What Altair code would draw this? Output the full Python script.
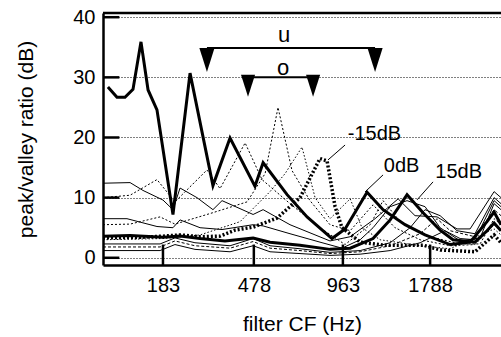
import altair as alt
import pandas as pd

# x positions are in ERB-rate-like channel units (equal spacing on the axis)
tick_pos = [5.5, 10.5, 15.4, 20.2]
tick_labels = ["183", "478", "963", "1788"]
y_ticks = [0, 10, 20, 30, 40]

# -15 dB (thick dotted)
m15_x = [2.20, 4.24, 5.50, 6.44, 7.54, 8.64, 9.46, 10.46, 11.78, 13.04, 14.14, 14.53, 14.97, 15.35, 16.35, 17.61, 19.81, 20.75, 22.67, 23.72, 24.10]
m15_y = [3.3, 3.4, 3.6, 3.8, 3.5, 3.6, 4.6, 5.1, 6.6, 10.0, 16.5, 16.1, 8.5, 5.0, 2.6, 2.1, 2.1, 1.3, 1.0, 3.8, 2.5]
# 0 dB (thick solid)
z_x = [2.47, 2.97, 3.41, 3.85, 4.29, 4.68, 5.17, 6.05, 6.99, 8.25, 9.19, 10.56, 11.01, 12.33, 13.43, 14.80, 15.52, 16.73, 17.61, 18.82, 19.92, 21.30, 22.40, 23.33, 23.72, 24.10]
z_y = [28.4, 26.7, 26.7, 28.0, 35.9, 27.9, 24.6, 7.2, 30.7, 12.0, 19.9, 11.9, 15.8, 10.5, 6.8, 3.2, 4.8, 10.9, 8.0, 5.5, 3.8, 2.2, 2.6, 6.0, 7.6, 5.5]
# 15 dB (thick solid)
p15_x = [2.20, 3.69, 5.50, 6.44, 7.54, 8.91, 10.46, 11.39, 13.04, 14.69, 15.80, 17.06, 18.00, 18.93, 19.81, 20.75, 21.46, 22.67, 23.33, 23.72, 24.10]
p15_y = [3.6, 3.7, 3.4, 3.6, 3.2, 2.8, 3.3, 2.6, 2.1, 1.4, 1.6, 3.2, 6.3, 10.5, 7.5, 4.6, 3.0, 2.6, 4.5, 5.8, 4.5]
# thin lines
t1_x = [2.20, 3.69, 4.40, 5.50, 6.05, 6.44, 7.37, 8.25, 8.75, 10.46, 11.01, 12.49, 14.69, 15.80, 17.17, 18.44, 19.37, 20.58, 21.68, 22.40, 23.72, 24.10]
t1_y = [12.4, 12.5, 11.2, 9.6, 8.0, 11.6, 10.0, 8.0, 9.5, 7.2, 8.0, 5.5, 2.8, 3.5, 6.5, 9.8, 7.0, 6.8, 4.8, 4.8, 11.0, 10.0]
t2_x = [2.20, 3.69, 5.17, 6.16, 7.92, 8.64, 10.02, 10.95, 12.49, 14.14, 15.52, 16.90, 17.61, 18.55, 20.20, 21.85, 22.95, 23.72, 24.10]
t2_y = [10.0, 10.4, 13.0, 9.3, 14.6, 11.5, 19.1, 13.0, 9.0, 5.0, 2.2, 5.5, 9.5, 6.0, 3.5, 2.3, 2.3, 6.5, 5.5]
t3_x = [2.20, 3.52, 5.17, 6.05, 6.44, 7.54, 8.75, 10.46, 11.01, 12.49, 14.14, 15.35, 16.35, 17.06, 18.00, 18.93, 19.92, 20.75, 21.85, 22.95, 23.72, 24.10]
t3_y = [6.5, 6.5, 5.2, 5.0, 6.3, 5.0, 4.7, 5.5, 5.3, 4.0, 2.6, 1.6, 3.0, 5.0, 8.5, 9.5, 8.5, 5.0, 2.8, 3.3, 9.0, 8.0]
t4_x = [2.20, 3.69, 5.34, 6.16, 8.25, 10.13, 11.12, 11.83, 12.60, 13.59, 14.69, 15.80, 17.06, 18.27, 19.65, 21.30, 22.67, 23.72, 24.10]
t4_y = [5.5, 5.6, 6.8, 5.6, 7.5, 9.3, 14.0, 25.0, 14.5, 9.5, 5.5, 4.5, 8.8, 5.0, 3.0, 2.0, 2.2, 5.5, 4.5]
t5_x = [2.20, 5.50, 7.54, 9.74, 11.39, 12.22, 13.15, 13.87, 14.69, 15.80, 16.45, 17.45, 19.65, 21.30, 23.72, 24.10]
t5_y = [3.0, 3.2, 3.8, 6.0, 11.0, 14.0, 18.4, 10.0, 6.5, 9.8, 5.0, 3.0, 2.0, 1.5, 4.8, 3.8]
b1_x = [2.20, 5.34, 6.16, 7.26, 9.19, 10.46, 11.39, 13.04, 14.69, 16.35, 18.00, 19.10, 19.92, 20.75, 21.68, 22.67, 23.72, 24.10]
b1_y = [2.3, 2.3, 3.3, 2.5, 2.0, 3.2, 2.0, 1.5, 0.9, 1.2, 2.5, 5.0, 8.0, 7.0, 4.5, 4.0, 10.0, 9.0]
b2_x = [2.20, 5.34, 6.16, 7.26, 9.19, 10.46, 11.39, 13.04, 14.69, 16.35, 18.00, 19.65, 20.58, 21.30, 22.67, 23.72, 24.10]
b2_y = [1.8, 1.8, 2.8, 2.0, 1.6, 2.7, 1.6, 1.2, 0.7, 1.0, 2.0, 4.0, 6.5, 4.5, 3.5, 8.0, 7.0]
b3_x = [2.20, 5.34, 6.16, 7.26, 9.19, 10.46, 11.39, 13.04, 14.69, 16.35, 18.00, 19.65, 21.02, 21.85, 22.67, 23.72, 24.10]
b3_y = [1.2, 1.2, 2.2, 1.4, 1.0, 2.0, 1.0, 0.7, 0.4, 0.6, 1.2, 2.5, 4.5, 3.2, 3.0, 9.5, 8.5]

# annotation bars (u and o ranges) and markers
u_range = [7.92, 17.17]
u_level = 34.9
u_marker_y = 32.9
o_range = [10.18, 13.76]
o_level = 30.0
o_marker_y = 28.6

# text labels
label_text = ["u", "o", "-15dB", "0dB", "15dB"]
label_x = [12.16, 12.11, 17.14, 18.63, 21.77]
label_y = [35.85, 30.4, 19.6, 14.27, 13.28]
label_size = [22, 22, 20, 20, 20]
# leader lines
lead_x = [15.52, 17.61, 20.36]
lead_y = [18.75, 13.78, 12.62]
lead_x2 = [14.58, 16.62, 19.48]
lead_y2 = [16.27, 10.95, 9.63]

X_MIN, X_MAX = 2.2, 24.1
Y_MIN, Y_MAX = -1.2, 40.7

FONT = "Liberation Sans"
xs = alt.Scale(domain=[X_MIN, X_MAX], nice=False, zero=False)
ys = alt.Scale(domain=[Y_MIN, Y_MAX], nice=False, zero=False)

label_expr = " : ".join(
    f"abs(datum.value - {p}) < 0.01 ? '{l}'" for p, l in zip(tick_pos, tick_labels)
) + " : ''"

x_axis = alt.Axis(values=tick_pos, labelExpr=label_expr, grid=False, tickSize=0,
                  domainColor="black", domainWidth=2.5, labelPadding=10,
                  labelFontSize=20, labelFont=FONT, labelColor="black",
                  title="filter CF (Hz)", titleFontSize=21, titleFont=FONT,
                  titleFontWeight="normal", titleColor="black", titlePadding=18)
y_axis = alt.Axis(values=y_ticks, grid=True, gridColor="black", gridDash=[1, 2],
                  gridWidth=1, gridOpacity=1, tickSize=0, domainColor="black", domainWidth=2.5,
                  labelPadding=8, labelFontSize=20, labelFont=FONT, labelColor="black",
                  title="peak/valley ratio (dB)", titleFontSize=21, titleFont=FONT,
                  titleFontWeight="normal", titleColor="black", titlePadding=36)


def X(field="x"):
    return alt.X(f"{field}:Q", scale=xs, axis=x_axis)


def Y(field="y"):
    return alt.Y(f"{field}:Q", scale=ys, axis=y_axis)


W, H = 398, 252

series = [
    ("b3", b3_x, b3_y, 1.0, None),
    ("b2", b2_x, b2_y, 1.0, [3, 2]),
    ("b1", b1_x, b1_y, 1.0, None),
    ("t5", t5_x, t5_y, 1.0, [1.5, 2]),
    ("t4", t4_x, t4_y, 1.0, [2, 2]),
    ("t3", t3_x, t3_y, 1.0, None),
    ("t2", t2_x, t2_y, 1.0, [2, 2]),
    ("t1", t1_x, t1_y, 1.0, None),
    ("p15", p15_x, p15_y, 3.0, None),
    ("m15", m15_x, m15_y, 3.5, [2, 2]),
    ("z0", z_x, z_y, 3.0, None),
]

ytick_df = pd.DataFrame({"y": y_ticks, "x": [X_MIN] * len(y_ticks), "x2": [X_MIN + 0.9] * len(y_ticks)})
base = alt.Chart(ytick_df).mark_rule(color="black", strokeWidth=2.5).encode(
    x=X(), x2="x2:Q", y=Y(),
)

xtick_df = pd.DataFrame({"x": tick_pos, "y": [Y_MIN] * len(tick_pos), "y2": [2.2] * len(tick_pos)})
xticks = alt.Chart(xtick_df).mark_rule(color="black", strokeWidth=2.5).encode(
    x=X(), y=Y(), y2="y2:Q",
)

top_df = pd.DataFrame({"x": [X_MIN], "x2": [X_MAX], "y": [Y_MAX]})
top = alt.Chart(top_df).mark_rule(color="black", strokeWidth=2.5).encode(
    x=X(), x2="x2:Q", y=Y(),
)

layers = [base, xticks, top]
for name, xv, yv, w, dash in series:
    df = pd.DataFrame({"x": xv, "y": yv})
    kw = dict(color="black", strokeWidth=w, strokeJoin="miter", clip=True)
    if dash is not None:
        kw["strokeDash"] = dash
    layers.append(alt.Chart(df).mark_line(**kw).encode(x=X(), y=Y()))

bar_df = pd.DataFrame({"x": [u_range[0], o_range[0]], "x2": [u_range[1], o_range[1]],
                       "y": [u_level, o_level]})
bars = alt.Chart(bar_df).mark_rule(color="black", strokeWidth=2).encode(
    x=X(), x2="x2:Q", y=Y(),
)
tri_u = pd.DataFrame({"x": u_range, "y": [u_marker_y] * 2})
tri_o = pd.DataFrame({"x": o_range, "y": [o_marker_y] * 2})
tri_u_layer = alt.Chart(tri_u).mark_point(
    shape="M-0.63,-1L0.63,-1L0,1Z", size=576, filled=True, color="black", opacity=1
).encode(x=X(), y=Y())
tri_o_layer = alt.Chart(tri_o).mark_point(
    shape="M-0.64,-1L0.64,-1L0,1Z", size=484, filled=True, color="black", opacity=1
).encode(x=X(), y=Y())

lead_df = pd.DataFrame({"x": lead_x, "y": lead_y, "x2": lead_x2, "y2": lead_y2})
leads = alt.Chart(lead_df).mark_rule(color="black", strokeWidth=1).encode(
    x=X(), x2="x2:Q", y=Y(), y2="y2:Q",
)

text_df = pd.DataFrame({"t": label_text, "x": label_x, "y": label_y, "s": label_size})
texts = alt.Chart(text_df).mark_text(
    font=FONT, color="black", align="center", baseline="alphabetic"
).encode(
    x=X(), y=Y(), text="t:N",
    size=alt.Size("s:Q", scale=None, legend=None),
)

layers += [bars, tri_u_layer, tri_o_layer, leads, texts]

chart = alt.layer(*layers).properties(
    width=W, height=H,
    autosize=alt.AutoSizeParams(type="none"),
    padding={"left": 103, "top": 13, "right": 0, "bottom": 72},
    background="white",
).configure_view(stroke=None)

chart.save("out.html", embed_options={"renderer": "svg", "actions": False})
